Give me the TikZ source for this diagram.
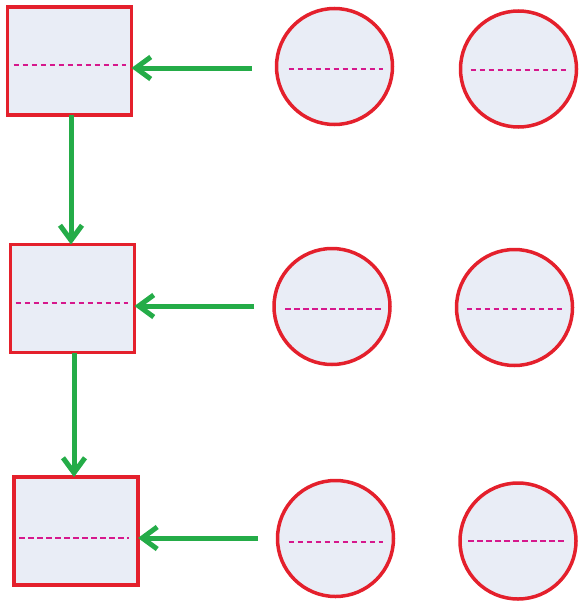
\documentclass[tikz,border=0pt]{standalone}
\usetikzlibrary{arrows.meta}
\definecolor{bred}{RGB}{228,32,44}
\definecolor{bfill}{RGB}{233,237,246}
\definecolor{agreen}{RGB}{36,172,72}
\definecolor{dmag}{RGB}{214,24,140}
\tikzset{
  sqbox/.style={draw=bred, fill=bfill, line width=3.5pt, rectangle, minimum width=124pt, minimum height=108pt, inner sep=0pt, outer sep=0pt},
  rbox/.style={draw=bred, fill=bfill, line width=3.5pt, circle, minimum size=116pt, inner sep=0pt, outer sep=0pt},
  midline/.style={draw=dmag, line width=2.6pt, dash pattern=on 5.8pt off 3.2pt},
  flow/.style={draw=agreen, line width=5pt, -{Straight Barb[length=15pt,width=22pt,line width=5pt]}}
}
\begin{document}
\begin{tikzpicture}[x=1pt,y=-1pt]
\useasboundingbox (0,0) rectangle (579,605);
% squares
\node[sqbox] (s1) at (69.5,61) {};
\node[sqbox] (s2) at (72.5,298.5) {};
\node[sqbox] (s3) at (76,531) {};
% circles
\node[rbox] (c1) at (334.5,66.5) {};
\node[rbox] (c2) at (518.5,69) {};
\node[rbox] (c3) at (332,306.5) {};
\node[rbox] (c4) at (514.5,307.5) {};
\node[rbox] (c5) at (335.5,538.5) {};
\node[rbox] (c6) at (518,541) {};
% dashed middle lines
\path[midline] ([xshift=6pt,yshift=-4pt]s1.west) -- ([xshift=-6pt,yshift=-4pt]s1.east);
\path[midline] ([xshift=5pt,yshift=-4.5pt]s2.west) -- ([xshift=-7pt,yshift=-4.5pt]s2.east);
\path[midline] ([xshift=5pt,yshift=-7pt]s3.west) -- ([xshift=-9pt,yshift=-7pt]s3.east);
\path[midline] ([xshift=12pt,yshift=-2.5pt]c1.west) -- ([xshift=-10pt,yshift=-2.5pt]c1.east);
\path[midline] ([xshift=10pt,yshift=-1pt]c2.west) -- ([xshift=-9pt,yshift=-1pt]c2.east);
\path[midline] ([xshift=11pt,yshift=-2.5pt]c3.west) -- ([xshift=-8pt,yshift=-2.5pt]c3.east);
\path[midline] ([xshift=10pt,yshift=-1.5pt]c4.west) -- ([xshift=-9pt,yshift=-1.5pt]c4.east);
\path[midline] ([xshift=11pt,yshift=-3.5pt]c5.west) -- ([xshift=-11pt,yshift=-3.5pt]c5.east);
\path[midline] ([xshift=8pt,yshift=0pt]c6.west) -- ([xshift=-10pt,yshift=0pt]c6.east);
% arrow start points
\coordinate (a1) at (252,68);
\coordinate (a2) at (254,306);
\coordinate (a3) at (258,538);
\coordinate (d1) at ([xshift=1.5pt]s1.south);
\coordinate (d2) at ([xshift=1.5pt]s2.south);
\draw[flow] (a1) -- (a1 -| s1.east);
\draw[flow] (a2) -- (a2 -| s2.east);
\draw[flow] (a3) -- (a3 -| s3.east);
\draw[flow] (d1) -- (d1 |- s2.north);
\draw[flow] (d2) -- (d2 |- s3.north);
\end{tikzpicture}
\end{document}
